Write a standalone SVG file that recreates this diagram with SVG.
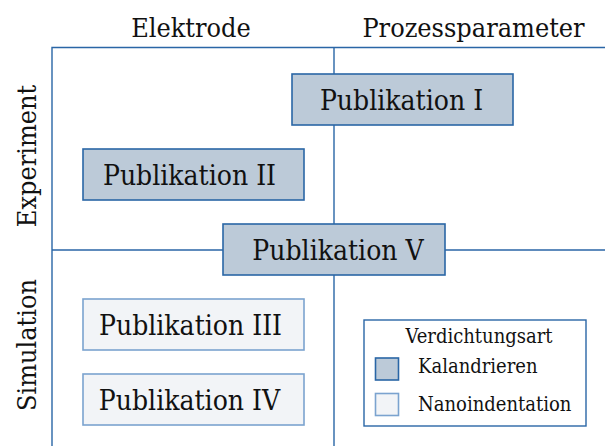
<svg xmlns="http://www.w3.org/2000/svg" width="605" height="446" viewBox="0 0 605 446">
<style>
text{font-family:"DejaVu Serif Condensed","DejaVu Serif","Liberation Serif",serif;font-stretch:condensed;fill:#111;}
.ax{fill:none;stroke:#2a66a6;stroke-width:1.4;}
.dk{fill:#bccad8;stroke:#2a66a6;stroke-width:1.6;}
.lt{fill:#f2f4f7;stroke:#7ba3cf;stroke-width:1.6;}
.big{font-size:28px;text-anchor:middle;}
.lab{font-size:26.8px;text-anchor:middle;}
.lg{font-size:20px;}
</style>
<rect width="605" height="446" fill="#fff"/>
<g id="axes" class="connectors">
<path class="ax" d="M52 446V47.5H605M334 47.5V446M52 250H605"/>
</g>
<g id="labels">
<text class="lab" x="191" y="37">Elektrode</text>
<text class="lab" x="473.5" y="37">Prozessparameter</text>
<text class="lab" transform="translate(36 156) rotate(-90)">Experiment</text>
<text class="lab" transform="translate(36 345) rotate(-90)">Simulation</text>
</g>
<g id="pub1"><rect class="dk" x="292" y="74" width="221" height="51"/><text class="big" x="401.5" y="110">Publikation I</text></g>
<g id="pub2"><rect class="dk" x="83" y="149" width="221" height="51"/><text class="big" x="189.5" y="185">Publikation II</text></g>
<g id="pub5"><rect class="dk" x="223" y="224" width="222" height="51"/><text class="big" x="338" y="260">Publikation V</text></g>
<g id="pub3"><rect class="lt" x="83" y="299" width="221" height="51"/><text class="big" x="190.5" y="335">Publikation III</text></g>
<g id="pub4"><rect class="lt" x="83" y="374" width="221" height="51"/><text class="big" x="189.5" y="410">Publikation IV</text></g>
<g id="legend">
<rect x="364" y="320" width="222" height="106" fill="#fff" stroke="#2a66a6" stroke-width="1.4"/>
<text class="lg" x="479" y="343" text-anchor="middle">Verdichtungsart</text>
<rect class="dk" x="375.5" y="358" width="23" height="22"/>
<text class="lg" x="418" y="373">Kalandrieren</text>
<rect class="lt" x="375.5" y="393.5" width="23" height="22"/>
<text class="lg" x="418" y="411">Nanoindentation</text>
</g>
</svg>
